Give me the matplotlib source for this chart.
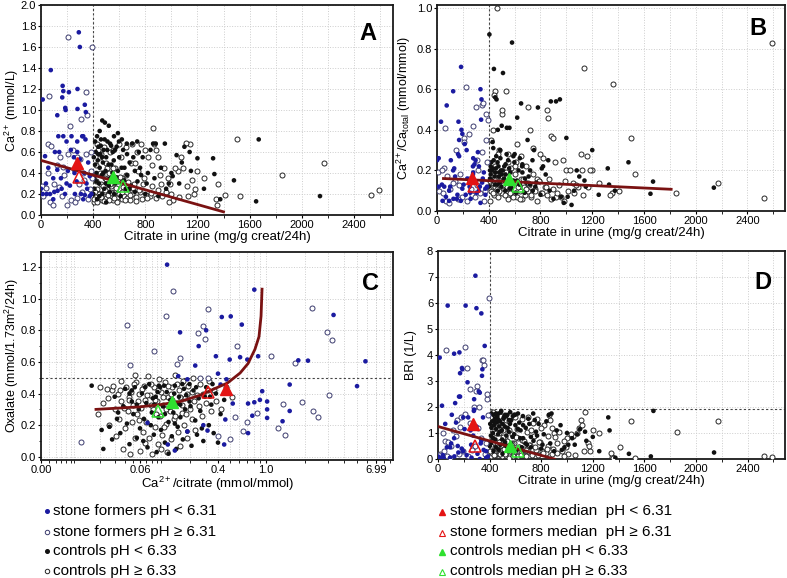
import numpy as np
import matplotlib
matplotlib.use('Agg')
import matplotlib.pyplot as plt
from matplotlib.ticker import MultipleLocator

plt.rcParams['font.family'] = ['Liberation Sans', 'DejaVu Sans']
plt.rcParams['mathtext.fontset'] = 'custom'
plt.rcParams['mathtext.rm'] = 'Liberation Sans'
plt.rcParams['mathtext.it'] = 'Liberation Sans:italic'

# ---- data ----
# stone formers pH < 6.31 : citrate, Ca2+ (A), Ca2+/Ca total (B), BRI (D)
sf_lo_cit = [13, 75, 290, 298, 166, 171, 214, 163, 186, 189, 280, 280, 336, 344, 125, 133, 171, 234, 316, 324,
             196, 278, 341, 229, 107, 31, 140, 278, 252, 298, 362, 56, 125, 206, 257, 331, 94, 153, 196, 273,
             349, 374, 43, 69, 102, 127, 184, 222, 260, 306, 336, 374, 387, 38, 13, 0, 158, 354, 324, 94]
sf_lo_ca = [1.10, 1.38, 1.74, 1.60, 1.23, 1.18, 1.17, 1.12, 1.02, 1.00, 1.20, 1.01, 1.05, 0.98, 0.95, 0.75, 0.75, 0.75, 0.75, 0.75,
            0.70, 0.70, 0.72, 0.62, 0.60, 0.56, 0.60, 0.60, 0.55, 0.53, 0.50, 0.45, 0.43, 0.42, 0.40, 0.40, 0.35, 0.35, 0.30, 0.32,
            0.30, 0.37, 0.20, 0.20, 0.22, 0.23, 0.20, 0.28, 0.20, 0.20, 0.19, 0.18, 0.20, 0.30, 0.20, 0.25, 0.25, 0.25, 0.15, 0.15]
sf_lo_ratio = [0.26, 0.52, 0.23, 0.25, 0.44, 0.35, 0.33, 0.28, 0.71, 0.40, 0.26, 0.19, 0.60, 0.55, 0.59, 0.21, 0.27, 0.16, 0.29, 0.22,
               0.38, 0.18, 0.45, 0.30, 0.25, 0.44, 0.17, 0.22, 0.12, 0.14, 0.19, 0.12, 0.20, 0.13, 0.09, 0.12, 0.10, 0.06, 0.11, 0.15,
               0.14, 0.11, 0.05, 0.07, 0.12, 0.06, 0.05, 0.08, 0.06, 0.09, 0.04, 0.08, 0.12, 0.13, 0.12, 0.25, 0.08, 0.16, 0.10, 0.05]
sf_lo_bri = [3.9, 5.9, 7.05, 5.8, 4.1, 3.3, 5.9, 2.4, 3.5, 3.45, 2.3, 1.9, 5.6, 3.45, 4.05, 2.15, 2.4, 1.6, 2.6, 2.55,
             1.6, 1.85, 3.2, 2.95, 1.7, 2.05, 1.4, 1.2, 1.1, 1.25, 4.35, 1.35, 0.8, 1.15, 0.55, 0.6, 0.45, 0.5, 0.3, 0.9,
             1.6, 0.3, 0.05, 0.45, 0.6, 0.1, 0.4, 0.15, 0.05, 0.2, 0.7, 0.05, 0.1, 0.15, 0.05, 0.1, 0.25, 0.35, 0.0, 0.05]

# stone formers pH >= 6.31
sf_hi_cit = [209, 395, 64, 344, 354, 306, 222, 51, 74, 247, 209, 145, 298, 278, 349, 382, 18, 69, 94, 10,
             36, 140, 196, 273, 362, 374, 311, 120, 170, 250, 330, 100, 180, 230, 290, 390, 50, 160, 260, 320, 380]
sf_hi_ca = [1.70, 1.60, 1.13, 1.17, 0.95, 0.91, 0.85, 0.68, 0.66, 0.62, 0.58, 0.55, 0.53, 0.55, 0.58, 0.42, 0.18, 0.12, 0.10, 0.28,
            0.26, 0.27, 0.10, 0.16, 0.15, 0.25, 0.22, 0.48, 0.46, 0.44, 0.33, 0.30, 0.38, 0.14, 0.30, 0.35, 0.40, 0.18, 0.12, 0.40, 0.60]
sf_hi_ratio = [0.36, 0.45, 0.41, 0.52, 0.53, 0.25, 0.61, 0.21, 0.17, 0.38, 0.34, 0.30, 0.51, 0.42, 0.29, 0.35, 0.10, 0.05, 0.04, 0.19,
               0.20, 0.15, 0.07, 0.08, 0.05, 0.10, 0.13, 0.14, 0.13, 0.16, 0.09, 0.11, 0.18, 0.05, 0.07, 0.24, 0.09, 0.06, 0.11, 0.20, 0.48]
sf_hi_bri = [4.3, 6.2, 4.2, 3.8, 3.6, 2.8, 3.5, 0.7, 0.65, 2.7, 1.75, 1.5, 2.6, 2.0, 3.8, 2.3, 0.2, 0.1, 0.05, 0.15,
             1.0, 0.9, 0.3, 0.45, 0.2, 0.6, 1.2, 1.1, 1.25, 1.4, 0.8, 0.5, 1.6, 0.1, 0.5, 1.7, 0.3, 0.2, 0.35, 2.0, 2.5]

# controls pH < 6.33
ct_lo_cit = [1670, 2140, 1650, 1480, 1320, 1330, 1200, 1250, 1375, 1100, 1140, 1080, 1040, 1010, 950, 920, 880, 860, 840, 820,
             780, 760, 740, 700, 680, 660, 650, 630, 620, 600, 590, 580, 570, 560, 550, 540, 530, 520, 510, 500,
             495, 490, 485, 480, 475, 470, 465, 460, 455, 450, 445, 440, 435, 430, 425, 420, 415, 410, 405, 402,
             520, 560, 610, 720, 800, 900, 980, 960, 870, 640, 690, 750, 470, 530, 450, 590, 720, 1150, 1060, 1000,
             810, 660, 430, 500, 410,
             415, 425, 438, 448, 458, 468, 478, 488, 498, 508, 518, 528, 538, 548, 558, 568, 578, 598, 618, 638,
             658, 678, 708, 738, 768]
ct_lo_ca = [0.72, 0.18, 0.13, 0.33, 0.54, 0.39, 0.54, 0.25, 0.15, 0.65, 0.60, 0.50, 0.57, 0.37, 0.68, 0.45, 0.68, 0.68, 0.62, 0.40,
            0.55, 0.45, 0.32, 0.68, 0.50, 0.38, 0.25, 0.62, 0.72, 0.55, 0.42, 0.65, 0.30, 0.75, 0.60, 0.48, 0.35, 0.85, 0.70, 0.55,
            0.42, 0.88, 0.25, 0.62, 0.50, 0.90, 0.38, 0.72, 0.58, 0.45, 0.30, 0.65, 0.52, 0.75, 0.40, 0.60, 0.48, 0.35, 0.55, 0.20,
            0.28, 0.20, 0.18, 0.22, 0.20, 0.18, 0.30, 0.25, 0.35, 0.45, 0.28, 0.60, 0.20, 0.68, 0.80, 0.78, 0.42, 0.42, 0.30, 0.40,
            0.30, 0.58, 0.15, 0.12, 0.25,
            0.70, 0.32, 0.58, 0.18, 0.66, 0.55, 0.40, 0.72, 0.30, 0.62, 0.48, 0.22, 0.66, 0.40, 0.52, 0.62, 0.36, 0.70, 0.45, 0.33,
            0.68, 0.25, 0.55, 0.70, 0.38]
ct_lo_ratio = [0.145, 0.115, 0.085, 0.24, 0.21, 0.13, 0.30, 0.08, 0.10, 0.17, 0.15, 0.20, 0.03, 0.07, 0.55, 0.54, 0.54, 0.25, 0.18, 0.22,
               0.51, 0.12, 0.10, 0.35, 0.16, 0.23, 0.53, 0.20, 0.46, 0.28, 0.15, 0.83, 0.12, 0.41, 0.25, 0.41, 0.18, 0.22, 0.68, 0.42,
               0.20, 0.26, 0.14, 0.19, 0.22, 0.40, 0.13, 0.55, 0.21, 0.56, 0.17, 0.70, 0.31, 0.34, 0.20, 0.24, 0.18, 0.16, 0.87, 0.12,
               0.15, 0.11, 0.09, 0.13, 0.08, 0.06, 0.04, 0.07, 0.10, 0.26, 0.14, 0.30, 0.10, 0.23, 0.19, 0.27, 0.20, 0.12, 0.10, 0.36,
               0.21, 0.19, 0.21, 0.18, 0.20,
               0.22, 0.15, 0.25, 0.13, 0.27, 0.24, 0.17, 0.30, 0.12, 0.20, 0.16, 0.10, 0.28, 0.14, 0.21, 0.19, 0.11, 0.24, 0.15, 0.13,
               0.22, 0.09, 0.17, 0.25, 0.14]
ct_lo_bri = [1.85, 0.25, 0.10, 0.20, 1.60, 1.10, 0.85, 0.30, 0.05, 1.15, 1.05, 0.95, 0.80, 0.55, 1.30, 1.10, 1.75, 1.70, 1.45, 0.95,
             1.35, 1.05, 0.70, 1.55, 1.20, 0.80, 0.45, 1.40, 1.75, 1.30, 0.95, 1.65, 0.60, 1.80, 1.50, 1.20, 0.90, 1.70, 1.60, 1.35,
             1.10, 1.85, 0.55, 1.45, 1.25, 1.75, 0.95, 1.60, 1.40, 1.15, 0.75, 1.55, 1.30, 1.70, 1.00, 1.45, 1.20, 0.90, 1.35, 0.50,
             0.65, 0.40, 0.35, 0.45, 0.40, 0.30, 0.45, 0.35, 0.60, 1.10, 0.55, 1.50, 0.35, 1.65, 1.75, 1.70, 0.85, 0.70, 0.55, 1.00,
             0.55, 1.30, 0.30, 0.20, 0.60,
             1.75, 0.80, 1.45, 0.45, 1.65, 1.50, 1.05, 1.80, 0.75, 1.55, 1.25, 0.50, 1.70, 1.05, 1.35, 1.50, 0.85, 1.70, 1.15, 0.80,
             1.65, 0.60, 1.35, 1.75, 0.90]

# controls pH >= 6.33
ct_hi_cit = [1500, 1850, 2170, 2530, 2590, 1410, 1530, 1350, 1340, 1200, 1140, 1110, 1160, 1180, 1090, 860, 1010, 980, 920, 1050,
             1360, 1250, 1120, 1000, 880, 900, 850, 700, 530, 450, 440, 500, 505, 460, 420, 410, 420, 430, 440, 450,
             460, 470, 480, 490, 500, 510, 520, 530, 540, 550, 560, 570, 580, 590, 600, 610, 620, 630, 640, 650,
             660, 670, 680, 690, 700, 715, 730, 745, 760, 775, 790, 805, 820, 835, 850, 865, 880, 895, 910, 925,
             940, 960, 975, 990, 1030, 1060, 1075, 1130, 1170, 430, 480, 550, 600, 650, 740, 770, 800, 470, 620, 720,
             405, 412, 422, 432, 442, 452, 462, 472, 482, 492, 502, 512, 522, 532, 542, 552, 562, 572, 585, 605,
             625, 645, 665, 685, 705, 725, 755, 785, 815, 845]
ct_hi_ca = [0.72, 0.38, 0.50, 0.19, 0.24, 0.19, 0.18, 0.10, 0.15, 0.42, 0.68, 0.69, 0.33, 0.25, 0.45, 0.83, 0.14, 0.12, 0.30, 0.42,
            0.30, 0.35, 0.28, 0.20, 0.62, 0.55, 0.48, 0.68, 0.60, 0.55, 0.62, 0.50, 0.45, 0.58, 0.48, 0.12, 0.18, 0.25, 0.15, 0.20,
            0.30, 0.14, 0.22, 0.35, 0.16, 0.25, 0.40, 0.18, 0.28, 0.14, 0.22, 0.45, 0.17, 0.32, 0.20, 0.55, 0.15, 0.27, 0.18, 0.38,
            0.16, 0.25, 0.14, 0.50, 0.20, 0.30, 0.17, 0.42, 0.22, 0.15, 0.35, 0.19, 0.55, 0.18, 0.28, 0.68, 0.16, 0.24, 0.38, 0.18,
            0.45, 0.22, 0.35, 0.30, 0.45, 0.17, 0.55, 0.18, 0.20, 0.68, 0.65, 0.62, 0.68, 0.65, 0.60, 0.68, 0.62, 0.40, 0.35, 0.50,
            0.15, 0.22, 0.32, 0.12, 0.20, 0.40, 0.17, 0.28, 0.13, 0.24, 0.34, 0.19, 0.14, 0.30, 0.21, 0.45, 0.16, 0.26, 0.12, 0.36,
            0.22, 0.14, 0.31, 0.19, 0.26, 0.13, 0.24, 0.30, 0.16, 0.21]
ct_hi_ratio = [0.36, 0.09, 0.14, 0.065, 0.83, 0.10, 0.18, 0.09, 0.08, 0.20, 0.705, 0.28, 0.27, 0.20, 0.12, 0.46, 0.10, 0.05, 0.07, 0.14,
               0.625, 0.14, 0.20, 0.20, 0.37, 0.36, 0.50, 0.51, 0.59, 0.59, 0.57, 0.48, 0.50, 1.00, 0.35, 0.05, 0.10, 0.14, 0.08, 0.12,
               0.17, 0.07, 0.11, 0.15, 0.09, 0.13, 0.19, 0.10, 0.12, 0.06, 0.11, 0.21, 0.08, 0.14, 0.09, 0.24, 0.07, 0.13, 0.10, 0.16,
               0.06, 0.12, 0.08, 0.22, 0.10, 0.13, 0.07, 0.18, 0.11, 0.05, 0.15, 0.09, 0.26, 0.12, 0.08, 0.16, 0.06, 0.11, 0.24, 0.09,
               0.13, 0.07, 0.25, 0.15, 0.20, 0.09, 0.13, 0.08, 0.12, 0.40, 0.30, 0.28, 0.22, 0.27, 0.31, 0.16, 0.28, 0.28, 0.33, 0.40,
               0.12, 0.15, 0.20, 0.09, 0.16, 0.22, 0.11, 0.18, 0.10, 0.14, 0.17, 0.13, 0.08, 0.19, 0.12, 0.24, 0.09, 0.15, 0.07, 0.18,
               0.12, 0.06, 0.16, 0.11, 0.14, 0.08, 0.10, 0.15, 0.09, 0.12]
ct_hi_bri = [1.45, 1.05, 1.45, 0.12, 0.08, 0.45, 0.05, 0.08, 0.25, 1.10, 1.80, 1.50, 0.60, 0.30, 1.20, 1.70, 0.20, 0.10, 0.60, 0.90,
             0.05, 1.00, 1.30, 0.80, 1.20, 1.00, 0.90, 1.60, 1.50, 1.40, 1.70, 1.30, 1.10, 1.55, 1.25, 0.10, 0.25, 0.40, 0.15, 0.30,
             0.55, 0.20, 0.35, 0.70, 0.10, 0.45, 0.85, 0.25, 0.50, 0.05, 0.35, 0.95, 0.20, 0.60, 0.30, 1.15, 0.10, 0.45, 0.25, 0.75,
             0.15, 0.40, 0.10, 1.05, 0.30, 0.55, 0.20, 0.90, 0.35, 0.15, 0.65, 0.30, 1.30, 0.25, 0.50, 1.50, 0.20, 0.40, 0.85, 0.25,
             1.05, 0.30, 0.70, 0.45, 0.95, 0.15, 1.00, 0.30, 0.50, 1.80, 1.65, 1.45, 1.60, 1.55, 1.40, 1.55, 1.20, 1.00, 0.80, 1.10,
             0.30, 0.50, 0.80, 0.15, 0.45, 1.00, 0.35, 0.65, 0.20, 0.55, 0.85, 0.40, 0.20, 0.70, 0.45, 1.10, 0.30, 0.60, 0.10, 0.85,
             0.45, 0.15, 0.70, 0.35, 0.55, 0.15, 0.45, 0.65, 0.25, 0.40]

# panel C: Ca2+/citrate vs oxalate
c_sf_lo_x = [0.116, 0.159, 0.43, 0.51, 0.63, 0.80, 0.30, 0.25, 0.38, 0.50, 0.61, 0.70, 0.86, 0.23, 0.152, 0.19, 0.40, 0.47, 0.93, 1.02,
             0.71, 0.80, 0.89, 1.02, 0.77, 1.02, 0.71, 0.46, 0.45, 0.28, 0.31, 0.19, 0.072, 0.118, 0.14, 1.52, 1.77, 2.1, 1.52, 1.34,
             3.3, 5.0, 5.8, 0.42, 0.53]
c_sf_lo_y = [1.215, 0.787, 0.884, 0.888, 0.836, 1.057, 0.80, 0.70, 0.636, 0.615, 0.63, 0.615, 0.636, 0.577, 0.51, 0.49, 0.526, 0.49, 0.415, 0.35,
             0.337, 0.345, 0.36, 0.30, 0.26, 0.246, 0.15, 0.236, 0.078, 0.20, 0.166, 0.16, 0.215, 0.078, 0.04, 0.457, 0.61, 0.608, 0.29, 0.225,
             0.897, 0.447, 0.604, 0.457, 0.337]
c_sf_hi_x = [0.042, 0.113, 0.135, 0.31, 0.28, 0.29, 0.245, 0.159, 0.148, 0.085, 0.046, 0.57, 1.1, 1.67, 2.25, 2.95, 3.2, 3.05, 1.9, 2.3,
             2.5, 1.34, 1.4, 1.23, 0.84, 0.70, 0.65, 0.55, 0.50, 0.26, 0.31, 0.012, 0.40]
c_sf_hi_y = [0.836, 0.893, 1.046, 0.937, 0.825, 0.745, 0.783, 0.625, 0.587, 0.667, 0.583, 0.70, 0.64, 0.594, 0.94, 0.787, 0.737, 0.39, 0.345, 0.29,
             0.253, 0.337, 0.14, 0.18, 0.274, 0.219, 0.162, 0.253, 0.11, 0.50, 0.50, 0.095, 0.13]
c_ct_lo_x = [0.016, 0.021, 0.022, 0.026, 0.028, 0.03, 0.032, 0.035, 0.038, 0.04, 0.042, 0.045, 0.048, 0.05, 0.052, 0.055, 0.058, 0.06, 0.063, 0.066,
             0.07, 0.072, 0.075, 0.078, 0.08, 0.084, 0.088, 0.09, 0.094, 0.098, 0.1, 0.105, 0.11, 0.115, 0.12, 0.125, 0.13, 0.135, 0.14, 0.145,
             0.15, 0.155, 0.16, 0.17, 0.175, 0.18, 0.19, 0.2, 0.21, 0.22, 0.23, 0.24, 0.25, 0.26, 0.28, 0.3, 0.32, 0.34, 0.36, 0.38,
             0.4, 0.42, 0.45, 0.065, 0.085, 0.11, 0.14, 0.2, 0.27, 0.12, 0.048, 0.033, 0.095, 0.16, 0.33,
             0.045, 0.055, 0.068, 0.082, 0.092, 0.108, 0.122, 0.138, 0.152, 0.168, 0.185, 0.205, 0.235, 0.29, 0.35]
c_ct_lo_y = [0.45, 0.17, 0.05, 0.19, 0.11, 0.38, 0.24, 0.15, 0.32, 0.43, 0.21, 0.08, 0.35, 0.27, 0.44, 0.12, 0.30, 0.18, 0.40, 0.24,
             0.34, 0.06, 0.46, 0.20, 0.28, 0.14, 0.38, 0.03, 0.25, 0.44, 0.17, 0.32, 0.09, 0.41, 0.22, 0.36, 0.13, 0.28, 0.45, 0.05,
             0.19, 0.38, 0.25, 0.11, 0.43, 0.30, 0.16, 0.35, 0.07, 0.42, 0.23, 0.14, 0.37, 0.29, 0.10, 0.44, 0.20, 0.33, 0.15, 0.40,
             0.09, 0.27, 0.36, 0.10, 0.33, 0.27, 0.21, 0.46, 0.18, 0.02, 0.42, 0.28, 0.45, 0.33, 0.38,
             0.40, 0.33, 0.44, 0.37, 0.41, 0.45, 0.31, 0.40, 0.34, 0.46, 0.39, 0.32, 0.44, 0.38, 0.46]
c_ct_hi_x = [0.019, 0.02, 0.022, 0.024, 0.026, 0.028, 0.03, 0.031, 0.033, 0.034, 0.036, 0.038, 0.04, 0.041, 0.043, 0.045, 0.046, 0.048, 0.05, 0.052,
             0.054, 0.056, 0.058, 0.06, 0.062, 0.064, 0.066, 0.068, 0.07, 0.073, 0.075, 0.077, 0.08, 0.082, 0.085, 0.087, 0.09, 0.092, 0.095, 0.097,
             0.1, 0.103, 0.106, 0.11, 0.113, 0.116, 0.12, 0.124, 0.128, 0.132, 0.136, 0.14, 0.145, 0.15, 0.155, 0.16, 0.165, 0.17, 0.175, 0.18,
             0.19, 0.195, 0.2, 0.21, 0.22, 0.23, 0.24, 0.25, 0.26, 0.27, 0.28, 0.3, 0.32, 0.34, 0.36, 0.38, 0.42, 0.47, 0.52, 0.036,
             0.044, 0.058, 0.068, 0.079, 0.088, 0.099, 0.108, 0.118, 0.13, 0.142, 0.158, 0.185, 0.21, 0.053,
             0.025, 0.029, 0.035, 0.039, 0.047, 0.051, 0.057, 0.063, 0.071, 0.078, 0.086, 0.094, 0.104, 0.112, 0.126, 0.148, 0.168, 0.19, 0.225, 0.31]
c_ct_hi_y = [0.27, 0.44, 0.34, 0.43, 0.20, 0.42, 0.30, 0.13, 0.40, 0.24, 0.35, 0.05, 0.18, 0.44, 0.29, 0.38, 0.02, 0.22, 0.33, 0.12,
             0.47, 0.27, 0.40, 0.04, 0.31, 0.16, 0.45, 0.36, 0.22, 0.51, 0.12, 0.39, 0.02, 0.30, 0.44, 0.19, 0.35, 0.08, 0.49, 0.26,
             0.41, 0.14, 0.33, 0.47, 0.21, 0.03, 0.38, 0.29, 0.11, 0.44, 0.24, 0.52, 0.34, 0.16, 0.42, 0.07, 0.28, 0.48, 0.20, 0.37,
             0.12, 0.45, 0.30, 0.24, 0.50, 0.17, 0.39, 0.32, 0.46, 0.26, 0.40, 0.34, 0.48, 0.29, 0.42, 0.35, 0.30, 0.44, 0.38, 0.48,
             0.36, 0.23, 0.09, 0.33, 0.27, 0.05, 0.19, 0.45, 0.36, 0.26, 0.38, 0.27, 0.41, 0.52,
             0.37, 0.45, 0.42, 0.31, 0.41, 0.46, 0.35, 0.43, 0.39, 0.46, 0.36, 0.42, 0.38, 0.30, 0.40, 0.46, 0.33, 0.40, 0.35, 0.42]

# group medians (sf <, sf >=, ct <, ct >=)
med_a_x = [278, 290, 553, 630]
med_a_y = [0.50, 0.36, 0.365, 0.275]
med_b_x = [270, 285, 555, 625]
med_b_y = [0.165, 0.125, 0.16, 0.125]
med_c_x = [0.47, 0.31, 0.13, 0.092]
med_c_y = [0.43, 0.41, 0.345, 0.29]
med_d_x = [268, 289, 558, 623]
med_d_y = [1.34, 0.49, 0.49, 0.32]

# regression lines
fit_a_x, fit_a_y = [0, 1400], [0.52, 0.03]
fit_b_x, fit_b_y = [50, 1810], [0.16, 0.107]
fit_d_x, fit_d_y = [0, 900], [1.25, 0.0]
fit_c_x = [0.018, 0.06, 0.098, 0.16, 0.26, 0.35, 0.48, 0.61, 0.71, 0.81, 0.875, 0.91, 0.927]
fit_c_y = [0.30, 0.316, 0.33, 0.35, 0.39, 0.425, 0.467, 0.53, 0.59, 0.68, 0.76, 0.89, 1.06]

legend_left = ['stone formers pH < 6.31', 'stone formers pH \u2265 6.31', 'controls pH < 6.33', 'controls pH \u2265 6.33']
legend_right = ['stone formers median  pH < 6.31', 'stone formers median  pH \u2265 6.31',
                'controls median pH < 6.33', 'controls median pH \u2265 6.33']

BLUE = '#1b1ba0'
SF_EDGE = '#3c3c6e'
CT_EDGE = '#262626'
RED = '#e41414'
GREEN = '#2fe02f'
FIT = '#7a1212'
GRID = '#cdcdcd'

# nonlinear x scale of panel C (tick values and where they sit along the axis, 0..352 px)
c_tick_vals = [0.004, 0.06, 0.4, 1.0, 6.99, 9.44]
c_tick_pos = [0, 99, 177, 225, 335, 352]
c_logv = np.log10(c_tick_vals)
c_pos = np.array(c_tick_pos) / 352.0


def c_fwd(x):
    return np.interp(np.log10(np.clip(x, 1e-4, None)), c_logv, c_pos)


def c_inv(u):
    return 10 ** np.interp(u, c_pos, c_logv)


fig = plt.figure(figsize=(7.87, 5.78), dpi=100)

# legend area drawn in pixel space of the figure
leg = fig.add_axes([0, 0, 1, 1])
leg.set_xlim(0, 787)
leg.set_ylim(578, 0)
leg.axis('off')

W, H = 787.0, 578.0
def box(l, t, r, b):
    return [l / W, 1 - b / H, (r - l) / W, (b - t) / H]

axA = fig.add_axes(box(41, 5, 393, 215))
axB = fig.add_axes(box(437, 5, 785, 211))
axC = fig.add_axes(box(41, 252, 393, 460))
axD = fig.add_axes(box(438, 251, 785, 459))


def scatter_groups(ax, groups):
    # groups: list of (x, y, kind)
    for x, y, kind in groups:
        if kind == 'ct_hi':
            ax.scatter(x, y, s=13, facecolors='white', edgecolors=CT_EDGE, linewidths=0.7, zorder=3)
        elif kind == 'ct_lo':
            ax.scatter(x, y, s=11, c='#111111', edgecolors='none', zorder=3)
        elif kind == 'sf_hi':
            ax.scatter(x, y, s=13, facecolors='white', edgecolors=SF_EDGE, linewidths=0.7, zorder=3)
        else:
            ax.scatter(x, y, s=11, c=BLUE, edgecolors='none', zorder=3)


def medians(ax, mx, my):
    ax.plot(mx[0], my[0], '^', ms=8, color=RED, mec=RED, zorder=6)
    ax.plot(mx[1], my[1], '^', ms=8, mfc='none', mec=RED, mew=1.1, zorder=6)
    ax.plot(mx[2], my[2], '^', ms=8, color=GREEN, mec=GREEN, zorder=6)
    ax.plot(mx[3], my[3], '^', ms=8, mfc='none', mec=GREEN, mew=1.1, zorder=6)


def style(ax, letter, lx, ly, ylab_x):
    for sp in ax.spines.values():
        sp.set_linewidth(1.3)
        sp.set_color('#1a1a1a')
    ax.tick_params(which='major', labelsize=8, length=2.5, width=0.8, pad=1)
    ax.tick_params(which='minor', length=1.8, width=0.6)
    ax.grid(True, which='both', color=GRID, ls=':', lw=0.7)
    ax.set_axisbelow(True)
    ax.yaxis.set_label_coords(ylab_x, 0.5)
    ax.text(lx, ly, letter, transform=ax.transAxes, fontsize=17, fontweight='bold',
            ha='center', va='center', zorder=8)


# ---- A ----
scatter_groups(axA, [(ct_hi_cit, ct_hi_ca, 'ct_hi'), (ct_lo_cit, ct_lo_ca, 'ct_lo'),
                     (sf_hi_cit, sf_hi_ca, 'sf_hi'), (sf_lo_cit, sf_lo_ca, 'sf_lo')])
axA.plot(fit_a_x, fit_a_y, color=FIT, lw=2, zorder=5)
medians(axA, med_a_x, med_a_y)
axA.axvline(400, color='#444444', ls=(0, (2, 2)), lw=0.8, zorder=2)
axA.set_xlim(0, 2700)
axA.set_ylim(0, 2.0)
axA.xaxis.set_major_locator(MultipleLocator(400))
axA.xaxis.set_minor_locator(MultipleLocator(200))
axA.yaxis.set_major_locator(MultipleLocator(0.2))
axA.yaxis.set_major_formatter(plt.FormatStrFormatter('%.1f'))
axA.set_xlabel('Citrate in urine (mg/g creat/24h)', fontsize=9.5, labelpad=1)
axA.set_ylabel('Ca$^{2+}$ (mmol/L)', fontsize=9)
style(axA, 'A', 0.93, 0.865, -0.057)

# ---- B ----
scatter_groups(axB, [(ct_hi_cit, ct_hi_ratio, 'ct_hi'), (ct_lo_cit, ct_lo_ratio, 'ct_lo'),
                     (sf_hi_cit, sf_hi_ratio, 'sf_hi'), (sf_lo_cit, sf_lo_ratio, 'sf_lo')])
axB.plot(fit_b_x, fit_b_y, color=FIT, lw=2, zorder=5)
medians(axB, med_b_x, med_b_y)
axB.axvline(400, color='#444444', ls=(0, (2, 2)), lw=0.8, zorder=2)
axB.set_xlim(0, 2690)
axB.set_ylim(0, 1.015)
axB.xaxis.set_major_locator(MultipleLocator(400))
axB.xaxis.set_minor_locator(MultipleLocator(200))
axB.yaxis.set_major_locator(MultipleLocator(0.2))
axB.yaxis.set_major_formatter(plt.FormatStrFormatter('%.1f'))
axB.set_xlabel('Citrate in urine (mg/g creat/24h)', fontsize=9.5, labelpad=1)
axB.set_ylabel('Ca$^{2+}$/Ca$_{\\mathrm{total}}$ (mmol/mmol)', fontsize=9)
style(axB, 'B', 0.922, 0.888, -0.068)

# ---- C ----
axC.set_xscale('function', functions=(c_fwd, c_inv))
scatter_groups(axC, [(c_ct_hi_x, c_ct_hi_y, 'ct_hi'), (c_ct_lo_x, c_ct_lo_y, 'ct_lo'),
                     (c_sf_hi_x, c_sf_hi_y, 'sf_hi'), (c_sf_lo_x, c_sf_lo_y, 'sf_lo')])
axC.plot(fit_c_x, fit_c_y, color=FIT, lw=2, zorder=5)
medians(axC, med_c_x, med_c_y)
axC.axhline(0.5, color='#444444', ls=(0, (2, 2)), lw=0.8, zorder=2)
axC.set_xlim(c_tick_vals[0], c_tick_vals[-1])
axC.set_ylim(-0.02, 1.295)
axC.set_xticks(c_tick_vals[:5])
axC.set_xticklabels(['0.00', '0.06', '0.4', '1.0', '6.99'])
minor_c = [m * d for d in (0.001, 0.01, 0.1, 1.0) for m in range(1, 10)]
minor_c = [v for v in minor_c if c_tick_vals[0] < v < c_tick_vals[-1]]
axC.set_xticks(minor_c, minor=True)
axC.yaxis.set_major_locator(MultipleLocator(0.2))
axC.yaxis.set_minor_locator(MultipleLocator(0.1))
axC.yaxis.set_major_formatter(plt.FormatStrFormatter('%.1f'))
axC.set_xlabel('Ca$^{2+}$/citrate (mmol/mmol)', fontsize=9.5, labelpad=0)
axC.set_ylabel('Oxalate (mmol/1.73m$^2$/24h)', fontsize=9)
style(axC, 'C', 0.935, 0.85, -0.057)
axC.grid(False, which='minor', axis='y')

# ---- D ----
scatter_groups(axD, [(ct_hi_cit, ct_hi_bri, 'ct_hi'), (ct_lo_cit, ct_lo_bri, 'ct_lo'),
                     (sf_hi_cit, sf_hi_bri, 'sf_hi'), (sf_lo_cit, sf_lo_bri, 'sf_lo')])
axD.plot(fit_d_x, fit_d_y, color=FIT, lw=2, zorder=5)
medians(axD, med_d_x, med_d_y)
axD.axvline(400, color='#444444', ls=(0, (2, 2)), lw=0.8, zorder=2)
axD.plot([400, 2690], [1.92, 1.92], color='#444444', ls=(0, (2, 2)), lw=0.8, zorder=2)
axD.set_xlim(0, 2690)
axD.set_ylim(0, 8)
axD.xaxis.set_major_locator(MultipleLocator(400))
axD.xaxis.set_minor_locator(MultipleLocator(200))
axD.yaxis.set_major_locator(MultipleLocator(1))
axD.set_xlabel('Citrate in urine (mg/g creat/24h)', fontsize=9.5, labelpad=1)
axD.set_ylabel('BRI (1/L)', fontsize=9)
style(axD, 'D', 0.937, 0.85, -0.06)

# ---- legend below the panels ----
rows = [511, 532, 551, 571]
for i, lab in enumerate(legend_left):
    if i == 0:
        leg.plot(47, rows[i], 'o', ms=2.6, color=BLUE)
    elif i == 1:
        leg.plot(47, rows[i], 'o', ms=3.2, mfc='white', mec=SF_EDGE, mew=0.7)
    elif i == 2:
        leg.plot(47, rows[i], 'o', ms=2.6, color='#111111')
    else:
        leg.plot(47, rows[i], 'o', ms=3.2, mfc='white', mec=CT_EDGE, mew=0.7)
    leg.text(53, rows[i], lab, fontsize=11, va='center', ha='left')

for i, lab in enumerate(legend_right):
    col = RED if i < 2 else GREEN
    if i % 2 == 0:
        leg.plot(442, rows[i] + 1, '^', ms=5, color=col)
    else:
        leg.plot(442, rows[i] + 1, '^', ms=5, mfc='none', mec=col, mew=0.8)
    leg.text(450, rows[i], lab, fontsize=11, va='center', ha='left')

fig.savefig('out.png', dpi=100)
